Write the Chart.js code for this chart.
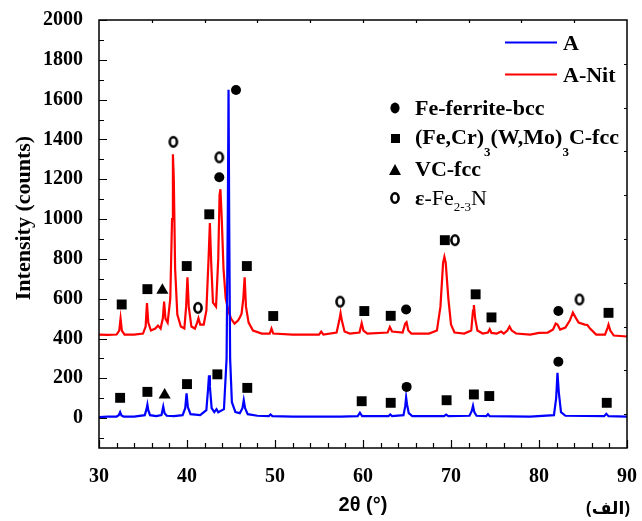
<!DOCTYPE html>
<html>
<head>
<meta charset="utf-8">
<script src="https://cdn.jsdelivr.net/npm/chart.js@4.4.1/dist/chart.umd.min.js"></script>
<style>
  html, body { margin: 0; padding: 0; background: #fff; }
  #wrap { position: relative; width: 642px; height: 521px; }
  #note { position: absolute; left: 586px; top: 496px; font: bold 17px 'Noto Sans', 'DejaVu Sans', sans-serif; color: #000; direction: rtl; }
</style>
</head>
<body>
<div id="wrap">
  <canvas id="xrd" width="642" height="521"></canvas>
  <div id="note">(الف)</div>
</div>
<script>
// sample A (blue)
const xA = [30.0, 31.0, 32.0, 32.25, 32.4, 32.55, 32.8, 34.0, 35.2, 35.4, 35.5, 35.6, 35.8, 36.5, 37.1, 37.3, 37.45, 37.7,
  38.5, 39.5, 39.8, 39.95, 40.1, 40.4, 41.5, 42.2, 42.4, 42.5, 42.6, 42.8, 43.1, 43.35, 43.55, 44.2, 44.5, 44.65, 44.72,
  44.8, 44.9, 45.1, 45.5, 46.0, 46.3, 46.45, 46.6, 46.9, 48.0, 49.3, 49.5, 49.7, 52.0, 55.0, 57.5, 59.4, 59.65, 59.9,
  62.9, 63.1, 63.3, 64.6, 64.8, 64.9, 65.0, 65.2, 65.6, 69.2, 69.45, 69.7, 72.1, 72.35, 72.5, 72.65, 72.9, 74.0, 74.2,
  74.4, 79.0, 81.7, 81.95, 82.1, 82.25, 82.5, 83.0, 87.4, 87.65, 87.9, 90.0];
const yA = [5, 8, 8, 15, 30, 14, 8, 8, 15, 45, 68, 40, 15, 10, 15, 58, 25, 12,
  10, 15, 50, 125, 55, 20, 15, 40, 150, 215, 160, 50, 30, 45, 30, 45, 300, 1100, 1650,
  950, 300, 80, 30, 25, 50, 90, 50, 20, 12, 10, 18, 10, 8, 8, 8, 10, 27, 10,
  10, 18, 10, 15, 60, 104, 70, 25, 10, 10, 18, 10, 12, 35, 62, 30, 12, 10, 20,
  10, 8, 15, 100, 228, 130, 30, 12, 10, 22, 10, 8];

// sample A-Nit (red)
const xNit = [30.0, 31.0, 32.0, 32.3, 32.45, 32.6, 32.9, 34.0, 35.0, 35.3, 35.45, 35.6, 35.9, 36.4, 36.7, 37.0, 37.25, 37.4,
  37.55, 37.8, 38.1, 38.3, 38.4, 38.5, 38.65, 38.9, 39.3, 39.7, 39.9, 40.05, 40.2, 40.5, 40.9, 41.15, 41.3, 41.5, 41.9,
  42.2, 42.45, 42.6, 42.75, 42.95, 43.3, 43.55, 43.7, 43.8, 43.95, 44.15, 44.4, 44.7, 45.0, 45.4, 45.8, 46.0, 46.2, 46.4,
  46.55, 46.7, 47.0, 47.5, 48.5, 49.4, 49.6, 49.8, 52.0, 55.0, 55.25, 55.5, 57.0, 57.3, 57.45, 57.6, 57.9, 58.5, 59.6,
  59.85, 60.05, 60.5, 62.8, 63.05, 63.3, 64.5, 64.8, 64.95, 65.15, 65.5, 67.5, 68.4, 68.8, 69.1, 69.25, 69.4, 69.7, 70.0,
  70.4, 71.5, 72.3, 72.5, 72.6, 72.75, 73.0, 73.6, 74.2, 74.4, 74.6, 75.2, 75.7, 76.0, 76.4, 76.65, 76.9, 77.4, 79.0,
  80.0, 81.0, 81.6, 81.9, 82.1, 82.4, 83.0, 83.5, 83.85, 84.1, 84.5, 85.2, 85.5, 85.8, 86.5, 87.5, 87.8, 87.9, 88.1,
  88.5, 90.0];
const yNit = [420, 418, 420, 440, 500, 440, 420, 420, 425, 460, 578, 480, 440, 450, 465, 450, 500, 585,
  500, 480, 600, 1000, 1325, 1200, 750, 520, 460, 450, 560, 708, 560, 460, 450, 480, 502, 470, 470,
  540, 800, 980, 780, 580, 560, 800, 1120, 1150, 1000, 750, 600, 540, 500, 475, 490, 505, 525, 600,
  708, 560, 480, 440, 425, 425, 450, 425, 420, 420, 435, 420, 430, 490, 528, 490, 435, 425, 430,
  477, 440, 425, 430, 458, 435, 430, 475, 482, 440, 425, 425, 440, 560, 780, 810, 780, 600, 470,
  430, 425, 440, 540, 568, 500, 440, 425, 430, 447, 428, 425, 435, 425, 440, 460, 440, 425, 420,
  428, 430, 445, 475, 470, 445, 455, 490, 530, 510, 480, 470, 468, 450, 420, 420, 455, 470, 440,
  415, 410];

// phase markers
const ferriteX = [45.57, 43.67, 64.9, 82.2, 64.96, 82.2];
const ferriteY = [1648, 1210, 546, 538, 157, 283];
const carbideX = [32.58, 35.5, 39.97, 42.53, 46.8, 49.8, 60.15, 63.15, 69.3, 72.8, 74.6, 87.9,
  32.4, 35.5, 40.0, 43.45, 46.85, 59.85, 63.15, 69.5, 72.6, 74.35, 87.7];
const carbideY = [571, 648, 764, 1024, 764, 513, 538, 514, 894, 622, 506, 529,
  102, 132, 171, 220, 152, 85, 77, 90, 119, 111, 77];
const vcX = [37.2, 37.46];
const vcY = [643, 116];
const nitrideX = [38.45, 43.67, 41.25, 57.4, 70.45, 84.6];
const nitrideY = [1388, 1310, 554, 585, 894, 596];

const xTicks = [30, 40, 50, 60, 70, 80, 90];
const yTicks = [0, 200, 400, 600, 800, 1000, 1200, 1400, 1600, 1800, 2000];

const serif = "'Times New Roman', 'Liberation Serif', serif";

function pts(xs, ys) {
  return xs.map((x, i) => ({ x: x, y: ys[i] }));
}

// open "o" marker
function openMark() {
  const c = document.createElement('canvas');
  c.width = 14; c.height = 16;
  const g = c.getContext('2d');
  g.lineWidth = 2.6;
  g.strokeStyle = '#000';
  g.beginPath();
  g.ellipse(7, 8, 3.6, 4.7, 0, 0, Math.PI * 2);
  g.stroke();
  return c;
}
const oMark = openMark();

function markerSet(xs, ys, style, r) {
  return {
    type: 'scatter',
    data: pts(xs, ys),
    showLine: false,
    pointStyle: style,
    pointRadius: r,
    pointHoverRadius: r,
    backgroundColor: '#000',
    borderColor: '#000',
    borderWidth: 0,
    order: 0
  };
}

const frame = {
  id: 'frame',
  afterDraw(chart) {
    const ctx = chart.ctx;
    const a = chart.chartArea;
    const xs = chart.scales.x, ys = chart.scales.y;
    ctx.save();
    ctx.strokeStyle = '#000';
    ctx.lineWidth = 1.5;
    ctx.strokeRect(a.left, a.top, a.right - a.left, a.bottom - a.top);
    ctx.lineWidth = 1.2;
    ctx.beginPath();
    // bottom ticks, inward
    for (let v = 30; v <= 90; v += 2) {
      const px = Math.round(xs.getPixelForValue(v)) + 0.5;
      const len = v % 10 === 0 ? 8 : 5;
      ctx.moveTo(px, a.bottom); ctx.lineTo(px, a.bottom - len);
    }
    // left ticks, inward
    for (let v = -100; v <= 2000; v += 100) {
      const py = Math.round(ys.getPixelForValue(v)) + 0.5;
      const len = v % 200 === 0 ? 8 : 5;
      ctx.moveTo(a.left, py); ctx.lineTo(a.left + len, py);
    }
    // top ticks
    for (let v = 36; v <= 84; v += 6) {
      const px = Math.round(xs.getPixelForValue(v)) + 0.5;
      ctx.moveTo(px, a.top); ctx.lineTo(px, a.top + 3);
    }
    // right ticks
    for (let v = 1780; v > -150; v -= 220) {
      const py = Math.round(ys.getPixelForValue(v)) + 0.5;
      ctx.moveTo(a.right, py); ctx.lineTo(a.right - 3, py);
    }
    ctx.stroke();

    ctx.fillStyle = '#000';
    ctx.textBaseline = 'alphabetic';

    // y axis title
    ctx.save();
    ctx.translate(30, 218);
    ctx.rotate(-Math.PI / 2);
    ctx.textAlign = 'center';
    ctx.font = 'bold 22px ' + serif;
    ctx.fillText('Intensity (counts)', 0, 0);
    ctx.restore();

    // legend: lines
    ctx.lineWidth = 2;
    ctx.strokeStyle = '#0000ff';
    ctx.beginPath(); ctx.moveTo(505, 42.5); ctx.lineTo(557, 42.5); ctx.stroke();
    ctx.strokeStyle = '#ff0000';
    ctx.beginPath(); ctx.moveTo(505, 74.5); ctx.lineTo(557, 74.5); ctx.stroke();
    ctx.font = 'bold 22px ' + serif;
    ctx.fillText('A', 563, 50);
    ctx.fillText('A-Nit', 563, 82);

    // legend: phases
    ctx.beginPath(); ctx.ellipse(395, 108, 4.6, 5.4, 0, 0, Math.PI * 2); ctx.fill();
    ctx.fillRect(391, 134, 9, 9);
    ctx.beginPath(); ctx.moveTo(389, 175); ctx.lineTo(401, 175); ctx.lineTo(395, 164); ctx.closePath(); ctx.fill();
    ctx.drawImage(oMark, 388, 190);

    function runs(list, x, y) {
      list.forEach(r => {
        ctx.font = (r.b === false ? '' : 'bold ') + (r.s ? '13px ' : '22px ') + serif;
        ctx.fillText(r.t, x, y + (r.s || 0));
        x += ctx.measureText(r.t).width;
      });
    }
    runs([{ t: 'Fe-ferrite-bcc' }], 415, 115);
    runs([{ t: '(Fe,Cr)' }, { t: '3', s: 12 }, { t: '(W,Mo)' }, { t: '3', s: 12 }, { t: 'C-fcc' }], 415, 144);
    runs([{ t: 'VC-fcc' }], 415, 176);
    runs([{ t: 'ε', b: true }, { t: '-Fe', b: false }, { t: '2-3', s: 6, b: false }, { t: 'N', b: false }], 415, 205);
    ctx.restore();
  }
};

new Chart(document.getElementById('xrd'), {
  type: 'scatter',
  data: {
    datasets: [
      markerSet(ferriteX, ferriteY, 'circle', 5),
      markerSet(carbideX, carbideY, 'rect', 7),
      markerSet(vcX, vcY, 'triangle', 7),
      markerSet(nitrideX, nitrideY, oMark, 7),
      {
        label: 'A',
        data: pts(xA, yA),
        showLine: true,
        borderColor: '#0000ff',
        borderWidth: 2.2,
        pointRadius: 0,
        order: 1
      },
      {
        label: 'A-Nit',
        data: pts(xNit, yNit),
        showLine: true,
        borderColor: '#ff0000',
        borderWidth: 2.2,
        pointRadius: 0,
        order: 2
      }
    ]
  },
  options: {
    responsive: false,
    animation: false,
    layout: { padding: { top: 20, right: 15, left: 0, bottom: 0 } },
    scales: {
      x: {
        type: 'linear',
        min: 30,
        max: 90,
        afterFit(s) { s.height = 73; s.paddingRight = 0; },
        afterBuildTicks(s) { s.ticks = xTicks.map(v => ({ value: v })); },
        grid: { display: false },
        border: { display: false },
        ticks: { color: '#000', padding: 9, font: { family: serif, size: 20, weight: 'bold' } },
        title: { display: true, text: '2θ (°)', color: '#000', padding: { top: 8 },
                 font: { family: "'Liberation Sans', Arial, sans-serif", size: 20, weight: 'bold' } }
      },
      y: {
        min: -150,
        max: 2000,
        afterFit(s) { s.width = 99; },
        afterBuildTicks(s) { s.ticks = yTicks.map(v => ({ value: v })); },
        grid: { display: false },
        border: { display: false },
        ticks: { color: '#000', padding: 8, callback: v => String(v),
                 font: { family: serif, size: 20, weight: 'bold' } }
      }
    },
    plugins: {
      legend: { display: false },
      tooltip: { enabled: false }
    }
  },
  plugins: [frame]
});
</script>
</body>
</html>
